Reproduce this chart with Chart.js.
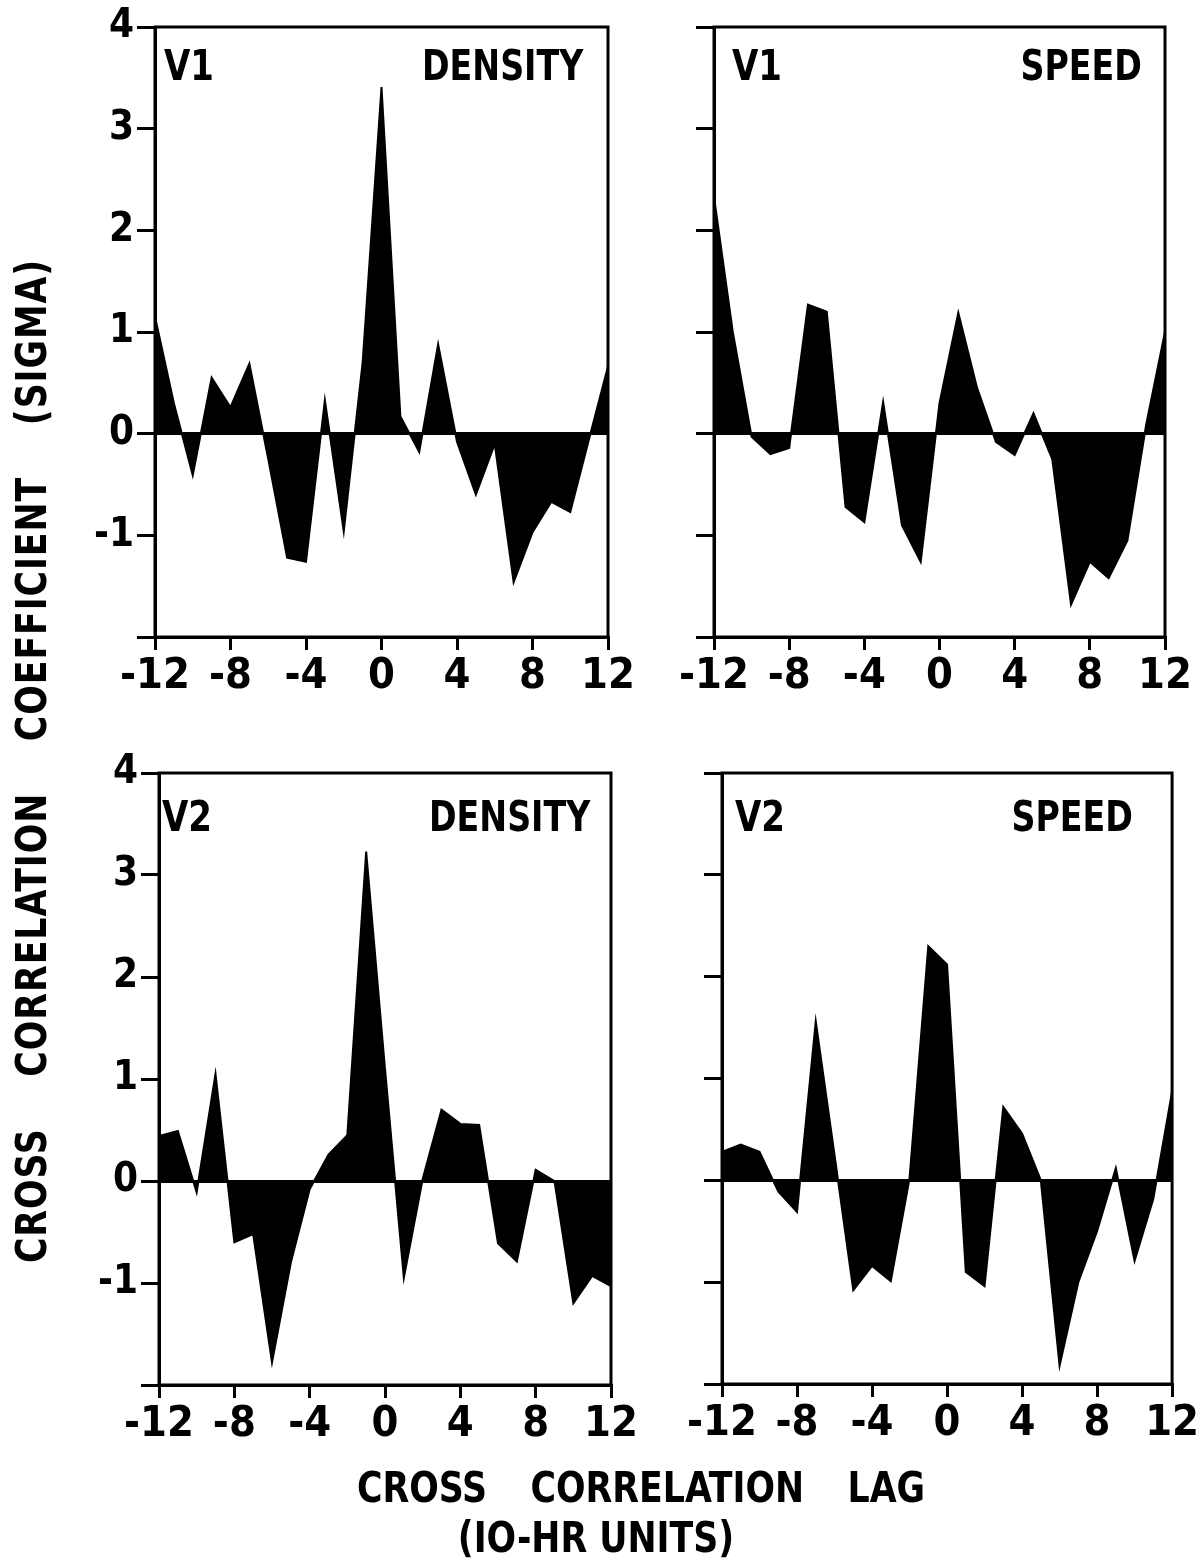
<!DOCTYPE html>
<html lang="en">
<head>
<meta charset="UTF-8">
<title>Cross correlation, V1 and V2</title>
<script src="https://cdn.jsdelivr.net/npm/chart.js"></script>
<style>
  body {
    margin: 0;
    width: 1200px;
    height: 1565px;
    position: relative;
    overflow: hidden;
    background: #fff;
    color: #000;
    font-family: 'DejaVu Sans Condensed', 'Liberation Sans Narrow', 'DejaVu Sans', sans-serif;
  }
  canvas { position: absolute; }
  .txt { position: absolute; font-size: 42px; font-weight: bold; line-height: 1; white-space: nowrap; }
  .left { transform: scaleX(0.9); transform-origin: left center; }
  .right { text-align: right; transform: scaleX(0.88); transform-origin: right center; }
  #ytitle {
    width: 1100px; text-align: center; word-spacing: 42px; letter-spacing: 1px;
    left: -518px; top: 740px; transform: rotate(-90deg) scaleX(0.92);
  }
  #xtitle { width: 1200px; text-align: center; left: 41px; top: 1467px; word-spacing: 34px; transform: scaleX(0.92); }
  #xunits { width: 1200px; text-align: center; left: -4px; top: 1517px; transform: scaleX(0.92); }
</style>
</head>
<body>
<canvas id="c1" width="640" height="720" style="left:0;top:0"></canvas>
<canvas id="c2" width="560" height="720" style="left:640px;top:0"></canvas>
<canvas id="c3" width="640" height="748" style="left:0;top:720px"></canvas>
<canvas id="c4" width="560" height="748" style="left:640px;top:720px"></canvas>

<div class="txt left" style="left:164px;top:45px">V1</div>
<div class="txt right" style="right:617px;top:45px">DENSITY</div>
<div class="txt left" style="left:732px;top:45px">V1</div>
<div class="txt right" style="right:58px;top:45px">SPEED</div>
<div class="txt left" style="left:162px;top:796px">V2</div>
<div class="txt right" style="right:610px;top:796px">DENSITY</div>
<div class="txt left" style="left:735px;top:796px">V2</div>
<div class="txt right" style="right:67px;top:796px">SPEED</div>

<div class="txt" id="ytitle">CROSS CORRELATION COEFFICIENT (SIGMA)</div>
<div class="txt" id="xtitle">CROSS CORRELATION LAG</div>
<div class="txt" id="xunits">(IO-HR UNITS)</div>

<script>
// lag in 10-hour units
const lags = [-12, -11, -10, -9, -8, -7, -6, -5, -4, -3, -2, -1, 0, 1, 2, 3, 4, 5, 6, 7, 8, 9, 10, 11, 12];

// cross correlation coefficient (sigma)
const v1Density = [1.15, 0.3, -0.41, 0.55, 0.26, 0.69, -0.25, -1.22, -1.26, 0.33, -0.96, 0.7, 3.41, 0.17, -0.18, 0.88, -0.08, -0.6, -0.1, -1.46, -0.97, -0.67, -0.77, -0.05, 0.66];
const v1Speed = [2.33, 1.0, -0.03, -0.2, -0.14, 1.27, 1.2, -0.72, -0.87, 0.31, -0.9, -1.26, 0.3, 1.19, 0.45, -0.08, -0.21, 0.2, -0.25, -1.68, -1.26, -1.42, -1.05, 0.09, 1.0];
const v2Density = [0.44, 0.49, -0.11, 1.05, -0.6, -0.52, -1.78, -0.8, -0.08, 0.26, 0.45, 3.23, 1.1, -0.95, 0.02, 0.7, 0.56, 0.55, -0.61, -0.79, 0.11, 0.0, -1.2, -0.93, -1.03];
const v2Speed = [0.28, 0.35, 0.28, -0.11, -0.31, 1.56, 0.25, -1.08, -0.84, -0.99, 0.02, 2.3, 2.12, -0.9, -1.04, 0.72, 0.46, 0.0, -1.82, -1.0, -0.5, 0.12, -0.79, -0.18, 0.87];

const xTicks = [-12, -8, -4, 0, 4, 8, 12];
const yTicks = [-2, -1, 0, 1, 2, 3, 4];

const FONT = "'DejaVu Sans Condensed', 'Liberation Sans Narrow', 'DejaVu Sans', sans-serif";

// box around the plot area (top and right edges)
const boxPlugin = {
  id: 'box',
  afterDraw(chart) {
    const a = chart.chartArea, c = chart.ctx;
    c.save();
    c.strokeStyle = '#000';
    c.lineWidth = 3;
    c.strokeRect(a.left, a.top, a.right - a.left, a.bottom - a.top);
    c.restore();
  }
};

function panel(id, values, opt) {
  const data = lags.map((x, i) => ({ x: x, y: values[i] }));
  return new Chart(document.getElementById(id), {
    type: 'line',
    data: {
      datasets: [{
        data: data,
        borderColor: '#000',
        backgroundColor: '#000',
        borderWidth: 2,
        pointRadius: 0,
        tension: 0,
        fill: 'origin'
      }]
    },
    options: {
      responsive: false,
      animation: false,
      devicePixelRatio: 1,
      layout: { padding: { top: opt.top, right: opt.right, left: 0, bottom: 0 } },
      plugins: { legend: { display: false }, tooltip: { enabled: false } },
      scales: {
        x: {
          type: 'linear',
          min: -12,
          max: 12,
          afterBuildTicks: s => { s.ticks = xTicks.map(v => ({ value: v })); },
          afterFit: s => { s.height = opt.xh; },
          border: { display: true, color: '#000', width: 3 },
          grid: { drawOnChartArea: false, color: '#000', lineWidth: 3, tickLength: 13 },
          ticks: { color: '#000', padding: 1, maxRotation: 0, font: { family: FONT, size: 43, weight: 'bold' } }
        },
        y: {
          min: -2,
          max: 4,
          afterBuildTicks: s => { s.ticks = yTicks.map(v => ({ value: v })); },
          afterFit: s => { s.width = opt.yw; },
          border: { display: true, color: '#000', width: 3 },
          grid: {
            color: c => (c.tick && c.tick.value === 0) ? '#000' : 'rgba(0,0,0,0)',
            tickColor: '#000',
            lineWidth: 3,
            tickLength: 18
          },
          ticks: {
            color: '#000',
            padding: 3,
            font: { family: FONT, size: 40, weight: 'bold' },
            callback: v => (opt.labels && v !== -2) ? String(v) : ''
          }
        }
      }
    },
    plugins: [boxPlugin]
  });
}

panel('c1', v1Density, { yw: 155, xh: 83, top: 27, right: 32, labels: true });
panel('c2', v1Speed, { yw: 74, xh: 83, top: 27, right: 35, labels: false });
panel('c3', v2Density, { yw: 159, xh: 83, top: 53, right: 29, labels: true });
panel('c4', v2Speed, { yw: 82, xh: 84, top: 53, right: 27, labels: false });
</script>
</body>
</html>
